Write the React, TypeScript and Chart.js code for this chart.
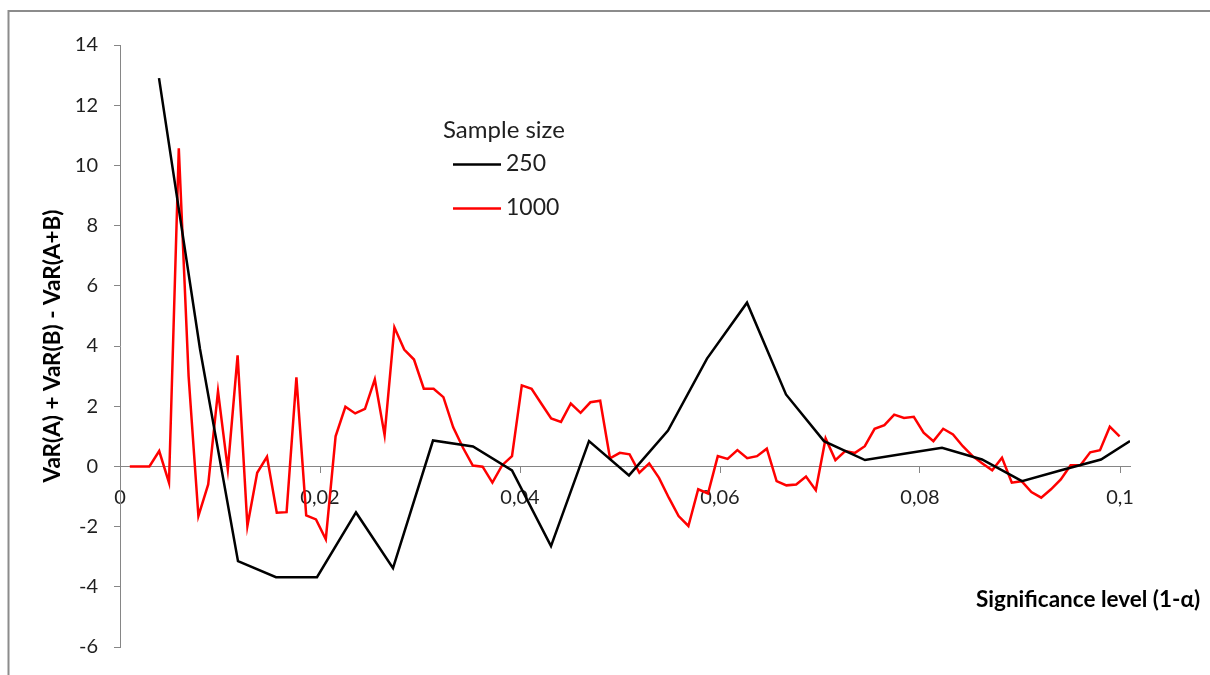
import { useEffect, useRef } from 'react';
import { Chart, registerables } from 'chart.js';

Chart.register(...registerables);

const xTickValues = [0, 0.02, 0.04, 0.06, 0.08, 0.1];
const xTickLabels = ['0', '0,02', '0,04', '0,06', '0,08', '0,1'];
const yTickValues = [-6, -4, -2, 0, 2, 4, 6, 8, 10, 12, 14];
const seriesNames = ['250', '1000'];
const legendTitle = 'Sample size';
const xAxisTitle = 'Significance level (1-\u03b1)';
const yAxisTitle = 'VaR(A) + VaR(B) - VaR(A+B)';

const alpha250 = [
  0.0039, 0.008, 0.0118, 0.0156, 0.0197, 0.0236, 0.0273, 0.0313, 0.0353, 0.0392,
  0.0431, 0.0469, 0.0509, 0.0548, 0.0587, 0.0627, 0.0666, 0.0704, 0.0745, 0.0784,
  0.0822, 0.0862, 0.0902, 0.0942, 0.0981, 0.101,
];
const diff250 = [
  12.9, 3.9, -3.15, -3.68, -3.68, -1.53, -3.38, 0.86, 0.66, -0.13,
  -2.65, 0.84, -0.3, 1.19, 3.58, 5.44, 2.39, 0.84, 0.21, 0.42,
  0.62, 0.23, -0.49, -0.12, 0.23, 0.84,
];

const alpha1000 = [
  0.00098, 0.00196, 0.00294, 0.00392, 0.0049, 0.00588, 0.00686, 0.00784, 0.00882, 0.0098,
  0.01078, 0.01176, 0.01274, 0.01372, 0.0147, 0.01568, 0.01666, 0.01764, 0.01862, 0.0196,
  0.02058, 0.02156, 0.02254, 0.02352, 0.0245, 0.02548, 0.02646, 0.02744, 0.02842, 0.0294,
  0.03038, 0.03136, 0.03234, 0.03332, 0.0343, 0.03528, 0.03626, 0.03724, 0.03822, 0.0392,
  0.04018, 0.04116, 0.04214, 0.04312, 0.0441, 0.04508, 0.04606, 0.04704, 0.04802, 0.049,
  0.04998, 0.05096, 0.05194, 0.05292, 0.0539, 0.05488, 0.05586, 0.05684, 0.05782, 0.0588,
  0.05978, 0.06076, 0.06174, 0.06272, 0.0637, 0.06468, 0.06566, 0.06664, 0.06762, 0.0686,
  0.06958, 0.07056, 0.07154, 0.07252, 0.0735, 0.07448, 0.07546, 0.07644, 0.07742, 0.0784,
  0.07938, 0.08036, 0.08134, 0.08232, 0.0833, 0.08428, 0.08526, 0.08624, 0.08722, 0.0882,
  0.08918, 0.09016, 0.09114, 0.09212, 0.0931, 0.09408, 0.09506, 0.09604, 0.09702, 0.098,
  0.09898, 0.09996,
];
const diff1000 = [
  0, 0, 0, 0.51, -0.54, 10.57, 3.0, -1.65, -0.6, 2.5,
  -0.1, 3.69, -1.98, -0.21, 0.32, -1.54, -1.52, 2.96, -1.63, -1.76,
  -2.42, 1.0, 1.98, 1.76, 1.91, 2.89, 1.04, 4.62, 3.88, 3.55,
  2.58, 2.58, 2.3, 1.3, 0.62, 0.03, -0.01, -0.54, 0.04, 0.34,
  2.69, 2.58, 2.08, 1.59, 1.48, 2.09, 1.78, 2.13, 2.18, 0.27,
  0.45, 0.4, -0.21, 0.1, -0.38, -1.04, -1.65, -1.98, -0.76, -0.9,
  0.34, 0.25, 0.54, 0.27, 0.34, 0.59, -0.49, -0.63, -0.6, -0.34,
  -0.79, 0.93, 0.21, 0.51, 0.45, 0.67, 1.25, 1.37, 1.72, 1.61,
  1.65, 1.12, 0.84, 1.25, 1.06, 0.67, 0.34, 0.1, -0.13, 0.29,
  -0.54, -0.49, -0.85, -1.04, -0.76, -0.43, 0.04, 0.04, 0.47, 0.54,
  1.32, 1.0,
];

const COLOR_250 = '#000000';
const COLOR_1000 = '#ff0000';
const AXIS_COLOR = '#868686';
const TEXT_COLOR = '#1f1f1f';
const FONT_FAMILY = 'Lato, "Open Sans", sans-serif';

const overlayPlugin = {
  id: 'overlay',
  afterDraw(chart: any) {
    const ctx: CanvasRenderingContext2D = chart.ctx;
    ctx.save();
    // outer chart border
    ctx.strokeStyle = '#8c8c8c';
    ctx.lineWidth = 2;
    ctx.strokeRect(8.5, 11, 1400, 900);

    // legend
    ctx.fillStyle = TEXT_COLOR;
    ctx.textBaseline = 'alphabetic';
    ctx.textAlign = 'left';
    ctx.font = `24px ${FONT_FAMILY}`;
    ctx.fillText(legendTitle, 443, 138);
    const ds = chart.data.datasets;
    const rows = [
      { y: 164.5, ty: 171 },
      { y: 208.5, ty: 215 },
    ];
    rows.forEach((r, i) => {
      ctx.strokeStyle = ds[i].borderColor;
      ctx.lineWidth = 2.5;
      ctx.beginPath();
      ctx.moveTo(453, r.y);
      ctx.lineTo(501, r.y);
      ctx.stroke();
      ctx.fillStyle = TEXT_COLOR;
      ctx.font = `23px ${FONT_FAMILY}`;
      ctx.fillText(ds[i].label, 506, r.ty);
    });

    // axis titles
    ctx.fillStyle = '#000';
    ctx.font = `bold 22.5px ${FONT_FAMILY}`;
    ctx.textAlign = 'left';
    ctx.fillText(xAxisTitle, 976, 607);

    ctx.translate(53, 346);
    ctx.rotate(-Math.PI / 2);
    ctx.textAlign = 'center';
    ctx.textBaseline = 'middle';
    ctx.fillText(yAxisTitle, 0, 0);
    ctx.restore();
  },
};

export default function App() {
  const canvasRef = useRef<HTMLCanvasElement | null>(null);

  useEffect(() => {
    const canvas = canvasRef.current;
    if (!canvas) return;
    const chart = new Chart(canvas, {
      type: 'line',
      data: {
        datasets: [
          {
            label: seriesNames[0],
            data: alpha250.map((x, i) => ({ x, y: diff250[i] })),
            borderColor: COLOR_250,
            backgroundColor: COLOR_250,
            borderWidth: 2.5,
            pointRadius: 0,
            tension: 0,
          },
          {
            label: seriesNames[1],
            data: alpha1000.map((x, i) => ({ x, y: diff1000[i] })),
            borderColor: COLOR_1000,
            backgroundColor: COLOR_1000,
            borderWidth: 2.5,
            pointRadius: 0,
            tension: 0,
          },
        ],
      },
      options: {
        animation: false,
        responsive: false,
        maintainAspectRatio: false,
        devicePixelRatio: 1,
        layout: { padding: { left: 0, top: 45, right: 80, bottom: 27 } },
        plugins: {
          legend: { display: false },
          tooltip: { enabled: false },
          title: { display: false },
        },
        scales: {
          x: {
            type: 'linear',
            min: 0,
            max: 0.101,
            position: { y: 0 } as any,
            afterBuildTicks: (scale: any) => {
              scale.ticks = xTickValues.map((v) => ({ value: v }));
            },
            grid: {
              display: true,
              drawOnChartArea: false,
              drawTicks: true,
              tickLength: 6,
              color: AXIS_COLOR,
            },
            border: { display: true, color: AXIS_COLOR, width: 1 },
            ticks: {
              autoSkip: false,
              maxRotation: 0,
              padding: 13,
              color: TEXT_COLOR,
              font: { family: FONT_FAMILY, size: 20 },
              callback: (value: any) => {
                const idx = xTickValues.findIndex((v) => Math.abs(v - Number(value)) < 1e-9);
                return idx >= 0 ? xTickLabels[idx] : '';
              },
            },
          },
          y: {
            type: 'linear',
            position: 'left',
            min: -6,
            max: 14,
            afterBuildTicks: (scale: any) => {
              scale.ticks = yTickValues.map((v) => ({ value: v }));
            },
            afterFit: (scale: any) => {
              scale.width = 120;
            },
            grid: {
              display: true,
              drawOnChartArea: false,
              drawTicks: true,
              tickLength: 6,
              color: AXIS_COLOR,
            },
            border: { display: true, color: AXIS_COLOR, width: 1 },
            ticks: {
              padding: 16,
              color: TEXT_COLOR,
              font: { family: FONT_FAMILY, size: 20 },
              callback: (value: any) => String(value),
            },
          },
        },
      },
      plugins: [overlayPlugin],
    });
    return () => chart.destroy();
  }, []);

  return (
    <div style={{ position: 'fixed', left: 0, top: 0, width: 1210, height: 675, background: '#fff' }}>
      <canvas ref={canvasRef} width={1210} height={675} style={{ display: 'block' }} />
    </div>
  );
}
